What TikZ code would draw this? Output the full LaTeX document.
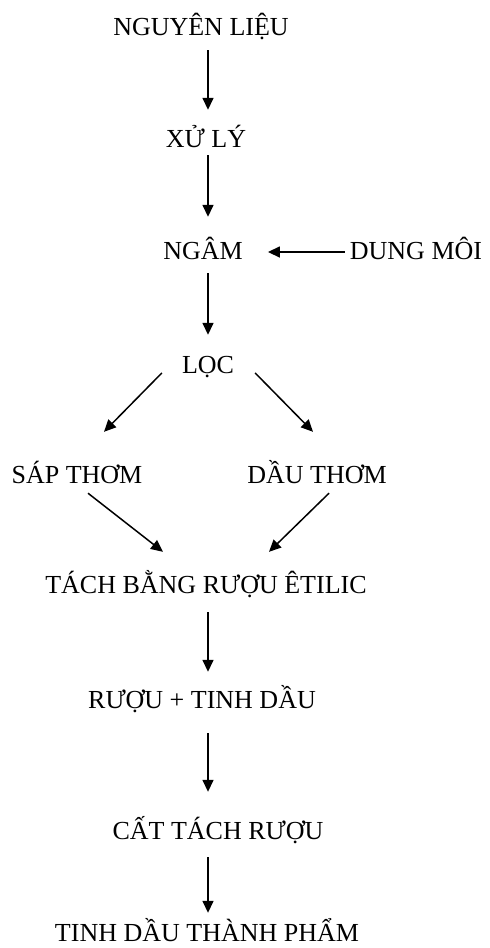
\documentclass[tikz,border=0pt]{standalone}
\usepackage{fontspec}
\setmainfont{Liberation Serif}
\usetikzlibrary{arrows.meta}

\begin{document}
\begin{tikzpicture}[x=1pt, y=-1pt,
	stage/.style={inner sep=0pt, text height=18pt, text depth=4pt, anchor=base, font=\fontsize{26}{30}\selectfont},
	flow/.style={line width=1.5pt, -{Triangle[length=12pt, width=11pt]}}]
	\useasboundingbox (0,0) rectangle (490,948);

	\coordinate (axis) at (208,0);

	\node[stage] (nl) at (201,35) {NGUYÊN LIỆU};
	\node[stage] (xl) at (206,147) {XỬ LÝ};
	\node[stage] (ng) at (203,259) {NGÂM};
	\node[stage] (dm) at (416,259) {DUNG MÔI};
	\node[stage] (loc) at (208,373) {LỌC};
	\node[stage] (sap) at (77,483) {SÁP THƠM};
	\node[stage] (dau) at (317,483) {DẦU THƠM};
	\node[stage] (tach) at (206,593) {TÁCH BẰNG RƯỢU ÊTILIC};
	\node[stage] (ruou) at (202,708) {RƯỢU + TINH DẦU};
	\node[stage] (cat) at (218,839) {CẤT TÁCH RƯỢU};
	\node[stage] (tp) at (207,941) {TINH DẦU THÀNH PHẨM};

	\draw[flow, shorten <=11pt, shorten >=19pt] (nl.south -| axis) -- (xl.north -| axis);
	\draw[flow, shorten <=4pt, shorten >=24pt] (xl.south -| axis) -- (ng.north -| axis);
	\draw[flow, shorten <=5pt, shorten >=25pt] (dm.west) -- (ng.east);
	\draw[flow, shorten <=10pt, shorten >=20pt] (ng.south -| axis) -- (loc.north -| axis);

	\draw[flow] ([shift={(-20,0)}]loc.base west) -- ([shift={(27,-33)}]sap.north);
	\draw[flow] ([shift={(21,0)}]loc.base east) -- ([shift={(-4,-33)}]dau.north);
	\draw[flow] ([shift={(11,6)}]sap.south) -- ([shift={(-43,-23)}]tach.north);
	\draw[flow] ([shift={(12,6)}]dau.south) -- ([shift={(63,-23)}]tach.north);

	\draw[flow, shorten <=15pt, shorten >=18pt] (tach.south -| axis) -- (ruou.north -| axis);
	\draw[flow, shorten <=21pt, shorten >=29pt] (ruou.south -| axis) -- (cat.north -| axis);
	\draw[flow, shorten <=14pt, shorten >=10pt] (cat.south -| axis) -- (tp.north -| axis);

\end{tikzpicture}
\end{document}
